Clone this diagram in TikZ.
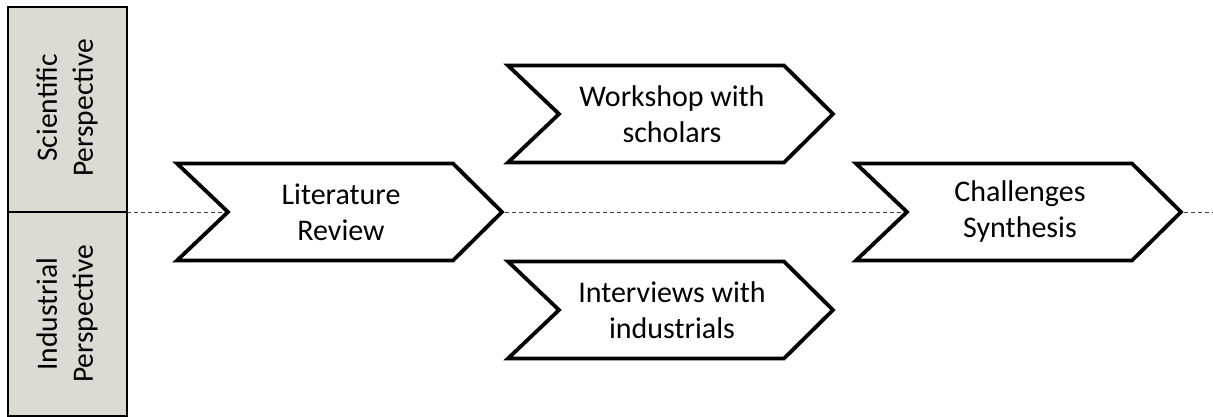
\documentclass[tikz,border=0pt]{standalone}
\usepackage{fontspec}
\setmainfont{Carlito}
\definecolor{boxfill}{RGB}{221,217,211}
\begin{document}
\begin{tikzpicture}[x=1pt,y=-1pt,
  chev/.style={draw=black,line width=3.8pt,fill=white,line join=miter},
  lbl/.style={align=center,font=\fontsize{30}{36}\selectfont,inner sep=0pt},
  side/.style={draw=black,line width=2pt,fill=boxfill},
  sidetxt/.style={align=center,rotate=90,font=\fontsize{29.5}{36}\selectfont,inner sep=0pt},
  axis/.style={draw=black!75,line width=0.8pt,dash pattern=on 4pt off 3pt}]
\useasboundingbox (0,0) rectangle (1213,417);
% side panels
\draw[side] (8,7) rectangle (127,212);
\draw[side] (8,212) rectangle (127,416);
\node[sidetxt] (sci) at (67,108) {Scientific\\Perspective};
\node[sidetxt] (ind) at (67,314) {Industrial\\Perspective};
\coordinate (axstart) at (127,212);
\coordinate (axend) at (1213,212);
\draw[axis] (axstart) -- (axend);
% chevrons
\newcommand{\chevron}[4]{% name, left x, center y, text
  \draw[chev] (#2,#3-48.5) -- ++(276,0) -- ++(49,48.5) -- ++(-49,48.5) -- ++(-276,0) -- ++(51,-48.5) -- cycle;
  \node[lbl] (#1) at (#2+164,#3) {#4};}
\chevron{lit}{177}{212}{Literature\\Review}
\chevron{work}{508}{114}{Workshop with\\scholars}
\chevron{inter}{508}{310}{Interviews with\\industrials}
\chevron{chal}{856}{212}{Challenges\\Synthesis}
\end{tikzpicture}
\end{document}
